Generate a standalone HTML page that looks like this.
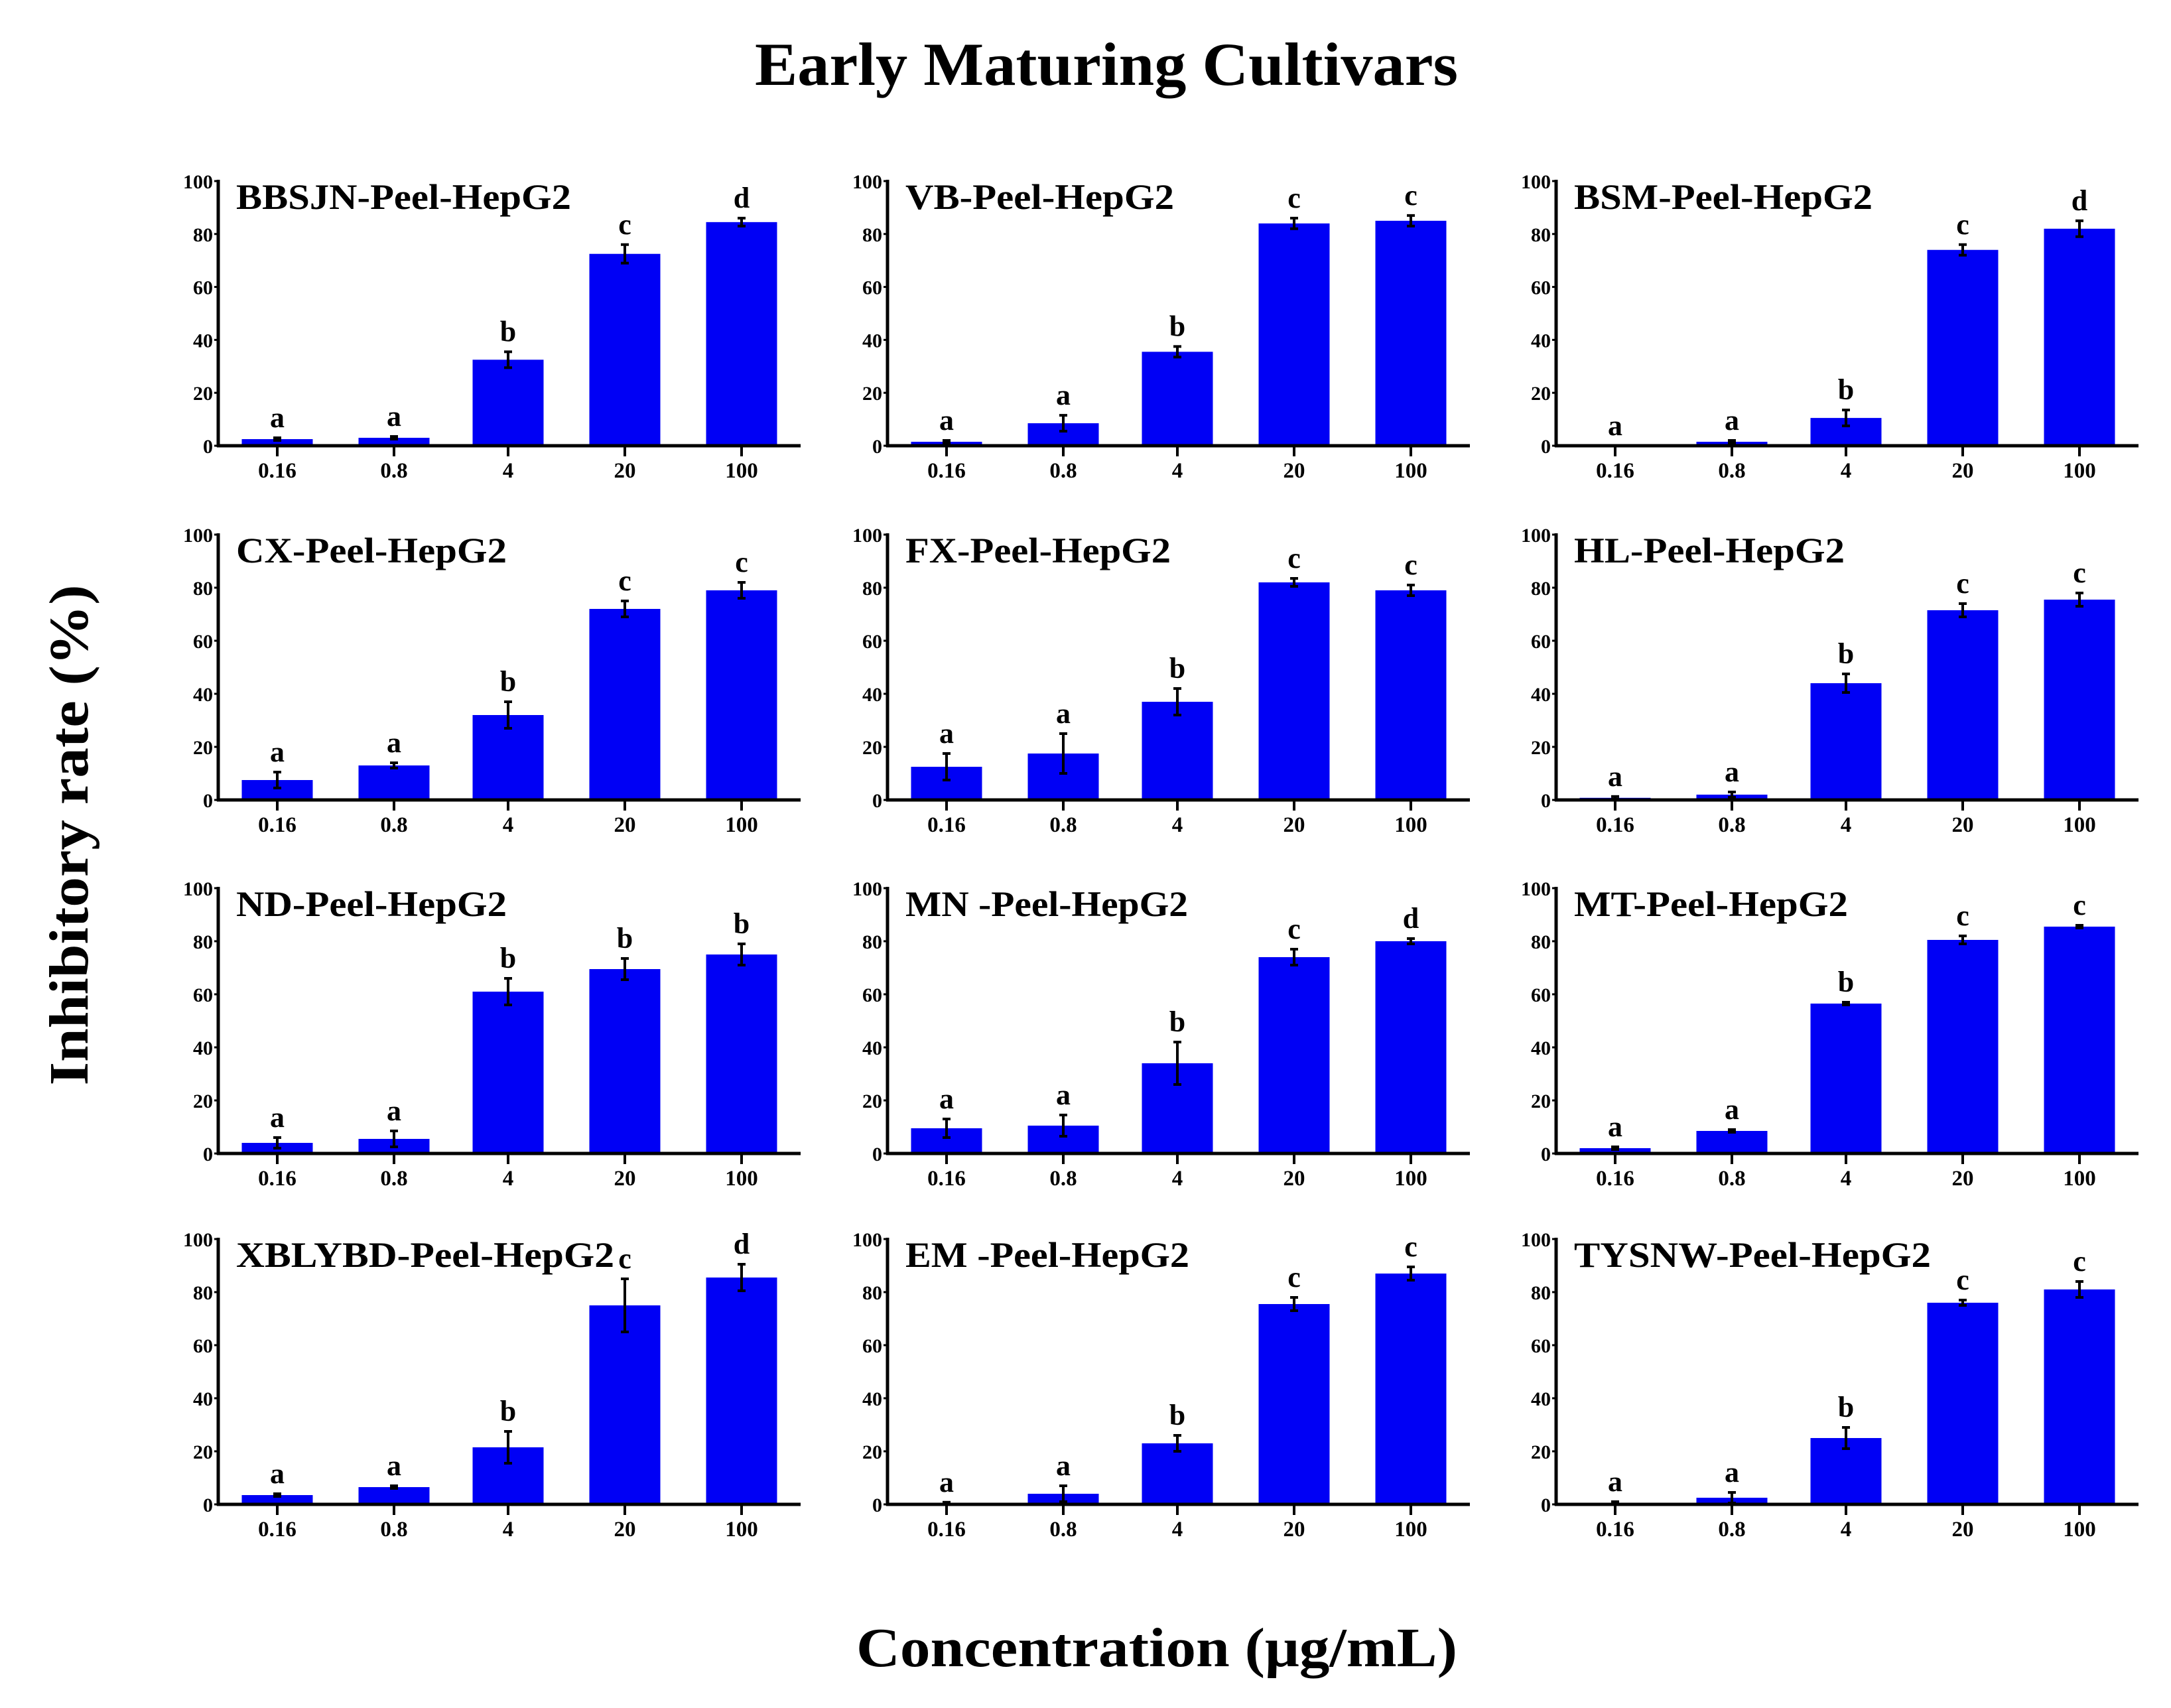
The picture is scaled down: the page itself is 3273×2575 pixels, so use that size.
<!DOCTYPE html>
<html><head><meta charset="utf-8"><style>
html,body{margin:0;padding:0;background:#fff;}
svg{display:block;}
text{font-family:"Liberation Serif",serif;font-weight:bold;fill:#000;}
</style></head><body>
<svg id="fig" width="3273" height="2575" viewBox="0 0 3273 2575" xmlns="http://www.w3.org/2000/svg">
<text x="1668" y="128" font-size="92" text-anchor="middle" textLength="1060" lengthAdjust="spacingAndGlyphs">Early Maturing Cultivars</text>
<text x="0" y="0" font-size="84" text-anchor="middle" textLength="755" lengthAdjust="spacingAndGlyphs" transform="translate(132,1259) rotate(-90)">Inhibitory rate (%)</text>
<text x="1744" y="2512" font-size="84" text-anchor="middle" textLength="906" lengthAdjust="spacingAndGlyphs">Concentration (μg/mL)</text>
<g id="panels"></g>
</svg>
<script>
const categories = ["0.16","0.8","4","20","100"];
const yTicks = [0,20,40,60,80,100];
const panelTitles = ["BBSJN-Peel-HepG2","VB-Peel-HepG2","BSM-Peel-HepG2","CX-Peel-HepG2","FX-Peel-HepG2","HL-Peel-HepG2","ND-Peel-HepG2","MN -Peel-HepG2","MT-Peel-HepG2","XBLYBD-Peel-HepG2","EM -Peel-HepG2","TYSNW-Peel-HepG2"];
const titleWidths = [505,405,450,408,400,408,408,426,413,570,428,538];
const valuesBBSJN = [2.5,3,32.5,72.5,84.5];
const valuesVB = [1.5,8.5,35.5,84,85];
const valuesBSM = [0,1.5,10.5,74,82];
const valuesCX = [7.5,13,32,72,79];
const valuesFX = [12.5,17.5,37,82,79];
const valuesHL = [0.8,2,44,71.5,75.5];
const valuesND = [4,5.5,61,69.5,75];
const valuesMN = [9.5,10.5,34,74,80];
const valuesMT = [2,8.5,56.5,80.5,85.5];
const valuesXBLYBD = [3.5,6.5,21.5,75,85.5];
const valuesEM = [0.5,4,23,75.5,87];
const valuesTYSNW = [0,2.5,25,76,81];
const errBBSJN = [0.5,0.5,3,3.5,1.5];
const errVB = [0.5,3,2,2,2];
const errBSM = [0,0.5,3,2,3];
const errCX = [3,1,5,3,3];
const errFX = [5,7.5,5,1.5,2];
const errHL = [0.5,1,3.5,2.5,2.5];
const errND = [2,3,5,4,4];
const errMN = [3.5,4,8,3,1];
const errMT = [0.5,0.5,0.5,1.5,0.5];
const errXBLYBD = [0.5,0.5,6,10,5];
const errEM = [0.3,3,3,2.5,2.5];
const errTYSNW = [1,2,4,1,3];
const lettersBBSJN = ["a","a","b","c","d"];
const lettersVB = ["a","a","b","c","c"];
const lettersBSM = ["a","a","b","c","d"];
const lettersCX = ["a","a","b","c","c"];
const lettersFX = ["a","a","b","c","c"];
const lettersHL = ["a","a","b","c","c"];
const lettersND = ["a","a","b","b","b"];
const lettersMN = ["a","a","b","c","d"];
const lettersMT = ["a","a","b","c","c"];
const lettersXBLYBD = ["a","a","b","c","d"];
const lettersEM = ["a","a","b","c","c"];
const lettersTYSNW = ["a","a","b","c","c"];

const allValues = [valuesBBSJN,valuesVB,valuesBSM,valuesCX,valuesFX,valuesHL,valuesND,valuesMN,valuesMT,valuesXBLYBD,valuesEM,valuesTYSNW];
const allErr = [errBBSJN,errVB,errBSM,errCX,errFX,errHL,errND,errMN,errMT,errXBLYBD,errEM,errTYSNW];
const allLetters = [lettersBBSJN,lettersVB,lettersBSM,lettersCX,lettersFX,lettersHL,lettersND,lettersMN,lettersMT,lettersXBLYBD,lettersEM,lettersTYSNW];

const NS = "http://www.w3.org/2000/svg";
const colX = [329,1338,2346];
const rowTop = [273,806,1339,1868];
const rowBottom = [672,1206,1739,2268];
const axisLen = 878;
const barOffsets = [89,265,437,613,789];
const barW = 107;
const root = document.getElementById('panels');

function mk(tag, attrs, parent){
  const e = document.createElementNS(NS, tag);
  for (const k in attrs) e.setAttribute(k, attrs[k]);
  parent.appendChild(e);
  return e;
}

for (let p = 0; p < 12; p++) {
  const r = Math.floor(p/3), c = p%3;
  const x0 = colX[c], yT = rowTop[r], yB = rowBottom[r];
  const yScale = v => yB - (v/100)*(yB - yT);
  const xScale = i => x0 + barOffsets[i];
  const g = mk('g', {}, root);
  
  

  const vals = allValues[p], errs = allErr[p], lets = allLetters[p];
  for (let i = 0; i < categories.length; i++) {
    const cx = xScale(i), v = vals[i], e = errs[i];
    const bar = mk('rect', {x: cx - barW/2, y: yScale(v), width: barW, height: yB - yScale(v), fill: '#0000f5'}, g);
    
    
    if (e > 0) {
      const eg = mk('g', {stroke: '#000', 'stroke-width': 4}, g);
      
      
      mk('line', {x1: cx, x2: cx, y1: yScale(v+e), y2: yScale(Math.max(0, v-e))}, eg);
      mk('line', {x1: cx-6, x2: cx+6, y1: yScale(v+e), y2: yScale(v+e)}, eg);
      mk('line', {x1: cx-6, x2: cx+6, y1: yScale(Math.max(0,v-e)), y2: yScale(Math.max(0,v-e))}, eg);
    }
    const lt = mk('text', {x: cx, y: yScale(v+e) - 16, 'font-size': 44, 'text-anchor': 'middle'}, g);
    lt.textContent = lets[i];
    
    
    mk('line', {x1: cx, x2: cx, y1: yB, y2: yB + 16, stroke: '#000', 'stroke-width': 4}, g);
    const xl = mk('text', {x: cx, y: yB + 48, 'font-size': 33, 'text-anchor': 'middle'}, g);
    xl.textContent = categories[i];
    
    
  }
  const ya = mk('line', {x1: x0, x2: x0, y1: yT - 2, y2: yB + 2, stroke: '#000', 'stroke-width': 5}, g);
  
  
  const xa = mk('line', {x1: x0 - 2, x2: x0 + axisLen, y1: yB, y2: yB, stroke: '#000', 'stroke-width': 5}, g);
  
  
  for (const t of yTicks) {
    const ty = yScale(t);
    mk('line', {x1: x0 - 6, x2: x0, y1: ty, y2: ty, stroke: '#000', 'stroke-width': 3}, g);
    const yl = mk('text', {x: x0 - 8, y: ty + 11, 'font-size': 30, 'text-anchor': 'end'}, g);
    yl.textContent = t;
    
    
  }
  const tt = mk('text', {x: x0 + 27, y: yT + 42, 'font-size': 54, textLength: titleWidths[p], lengthAdjust: 'spacingAndGlyphs'}, g);
  tt.textContent = panelTitles[p];
  
  
}
</script>
</body></html>
